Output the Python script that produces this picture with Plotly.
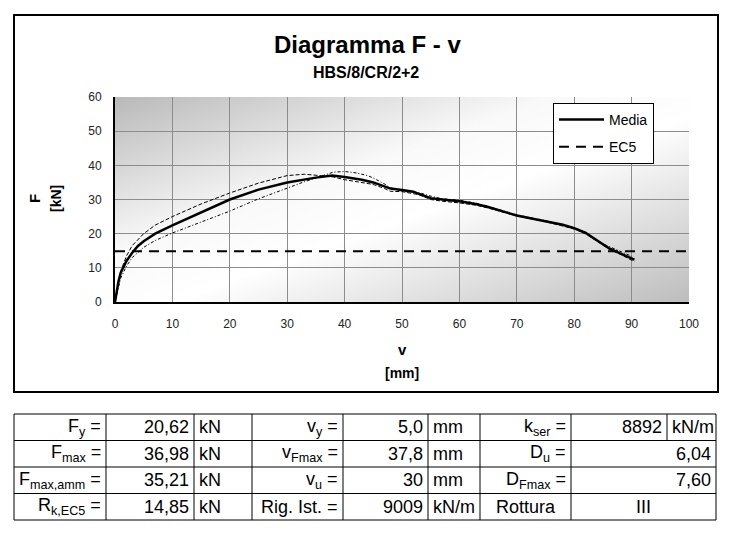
import base64

import plotly.graph_objects as go

W, H = 734, 533
FONT = "Liberation Sans, Arial, sans-serif"

# curve data: displacement v [mm], force F [kN]
media_v = [0, 0.3, 0.6, 1, 1.5, 2, 3, 4, 5, 7, 10, 15, 20, 25, 30, 35, 37.8, 40, 43, 45, 47, 48, 50,
           52, 53, 55, 57, 60, 63, 65, 68, 70, 73, 75, 78, 80, 82, 84, 85, 86, 88, 90, 90.5]
media_f = [0, 3, 6, 8.6, 10.5, 12, 14.4, 16.4, 17.8, 20, 22.4, 26.3, 30, 32.9, 35.0, 36.4, 37.0, 36.6,
           35.8, 35.0, 33.8, 33.2, 32.8, 32.3, 31.6, 30.4, 30.0, 29.5, 28.6, 27.8, 26.3, 25.3, 24.3,
           23.6, 22.6, 21.6, 20.2, 18.0, 16.8, 15.8, 14.2, 12.8, 12.4]

prova1_v = [0, 0.5, 1, 2, 3, 5, 7, 10, 15, 20, 25, 30, 33, 35, 38, 40, 43, 45, 47, 48, 50, 53, 55, 57,
            60, 63, 65, 70, 75, 80, 82, 84, 86, 88, 90, 90.5]
prova1_f = [0, 5, 9, 13.5, 16.5, 20, 22.5, 25, 28.7, 31.9, 34.8, 37.0, 37.4, 37.1, 36.6, 35.8, 35.0,
            34.4, 33.2, 32.4, 32.3, 31.4, 30.0, 29.5, 29.0, 28.3, 27.5, 25.2, 23.5, 21.4, 20.0, 17.8,
            15.5, 14.0, 12.3, 11.8]

prova2_v = [0, 0.5, 1, 2, 3, 5, 7, 10, 15, 20, 25, 30, 33, 35, 38, 40, 42, 44, 45, 47, 48, 50, 53, 55,
            57, 60, 63, 65, 70, 75, 80, 82, 84, 85, 86, 88, 90]
prova2_f = [0, 4, 7, 10.5, 13, 16, 18, 20.2, 23.5, 26.6, 30.2, 33.4, 35.2, 36.3, 38.0, 38.2, 37.8, 37.0,
            36.3, 34.5, 33.4, 32.4, 32.0, 31.0, 30.2, 29.8, 28.9, 28.0, 25.5, 23.8, 21.8, 20.4, 18.3,
            17.0, 16.3, 14.8, 13.4]

ec5_f = 14.85
x_range = [0, 100]
y_range = [0, 60]
x_ticks = [0, 10, 20, 30, 40, 50, 60, 70, 80, 90, 100]
y_ticks = [0, 10, 20, 30, 40, 50, 60]

title = "Diagramma F - v"
subtitle = "HBS/8/CR/2+2"

# results table (3 blocks of label / value / unit)
labels_a = ["F<sub>y</sub> =", "F<sub>max</sub> =", "F<sub>max,amm</sub> =", "R<sub>k,EC5</sub> ="]
values_a = ["20,62", "36,98", "35,21", "14,85"]
units_a = ["kN", "kN", "kN", "kN"]
labels_b = ["v<sub>y</sub> =", "v<sub>Fmax</sub> =", "v<sub>u</sub> =", "Rig. Ist. ="]
values_b = ["5,0", "37,8", "30", "9009"]
units_b = ["mm", "mm", "mm", "kN/m"]
labels_c = ["k<sub>ser</sub> =", "D<sub>u</sub> =", "D<sub>Fmax</sub> =", "Rottura"]
values_c = ["8892", "6,04", "7,60", "III"]
units_c = ["kN/m", "", "", ""]

# layout in pixels
PLOT_L, PLOT_R, PLOT_T, PLOT_B = 115, 689, 97, 302
FRAME = (14, 15, 718, 392)
COLS = [14, 106, 194, 252, 343, 428, 480, 571, 667, 716]
ROW_T, ROW_H = 414, 26.5


def px(x):
    return x / W


def py(y):
    return 1 - y / H


def gradient_uri(w, h):
    svg = (
        f'<svg xmlns="http://www.w3.org/2000/svg" width="{w}" height="{h}" '
        f'viewBox="0 0 {w} {h}" preserveAspectRatio="none"><defs>'
        '<linearGradient id="g" x1="0" y1="0" x2="1" y2="1">'
        '<stop offset="0" stop-color="#b9b9b9"/><stop offset="0.38" stop-color="#f9f9f9"/>'
        '<stop offset="0.55" stop-color="#ffffff"/><stop offset="1" stop-color="#bdbdbd"/>'
        f'</linearGradient></defs><rect width="{w}" height="{h}" fill="url(#g)"/></svg>'
    )
    return "data:image/svg+xml;base64," + base64.b64encode(svg.encode()).decode()


fig = go.Figure()

fig.add_trace(go.Scatter(x=prova1_v, y=prova1_f, mode="lines", showlegend=False, hoverinfo="skip",
                         line=dict(color="black", width=1, dash="4px,2px")))
fig.add_trace(go.Scatter(x=prova2_v, y=prova2_f, mode="lines", showlegend=False, hoverinfo="skip",
                         line=dict(color="black", width=1, dash="3px,2px,1px,2px")))
fig.add_trace(go.Scatter(x=media_v, y=media_f, mode="lines", name="Media", legendgroup="m",
                         line=dict(color="black", width=2.5)))
fig.add_trace(go.Scatter(x=x_range, y=[ec5_f, ec5_f], mode="lines", name="EC5", legendgroup="e",
                         line=dict(color="black", width=2, dash="10px,7px")))

shapes = [
    dict(type="rect", xref="x", yref="y", x0=x_range[0], x1=x_range[1], y0=y_range[0], y1=y_range[1],
         line=dict(color="#8c8c8c", width=1), layer="below"),
    dict(type="rect", xref="paper", yref="paper", x0=px(FRAME[0]), x1=px(FRAME[2]),
         y0=py(FRAME[3]), y1=py(FRAME[1]), line=dict(color="black", width=2)),
]

annotations = [
    dict(text=f"<b>{title}</b>", x=px(367), y=py(44), font=dict(size=24, color="black")),
    dict(text=f"<b>{subtitle}</b>", x=px(366), y=py(73), font=dict(size=16, color="black")),
    dict(text="<b>v</b>", x=px(402), y=py(349), font=dict(size=15, color="black")),
    dict(text="<b>[mm]</b>", x=px(402), y=py(373), font=dict(size=14, color="black")),
    dict(text="<b>F</b>", x=px(34), y=py(199), textangle=-90, font=dict(size=15, color="black")),
    dict(text="<b>[kN]</b>", x=px(56), y=py(199), textangle=-90, font=dict(size=14, color="black")),
]

# table grid
n_rows = len(labels_a)
row_lines = [ROW_T + ROW_H * i for i in range(n_rows + 1)]
for y in row_lines:
    shapes.append(dict(type="line", xref="paper", yref="paper", x0=px(COLS[0]), x1=px(COLS[-1]),
                       y0=py(y), y1=py(y), line=dict(color="black", width=1)))
for i, x in enumerate(COLS):
    y_end = row_lines[1] if i == 8 else row_lines[-1]
    shapes.append(dict(type="line", xref="paper", yref="paper", x0=px(x), x1=px(x),
                       y0=py(row_lines[0]), y1=py(y_end), line=dict(color="black", width=1)))


def cell(text, col, row, align, span=1):
    left, right = COLS[col], COLS[col + span]
    if align == "right":
        x, anchor = right - 3, "right"
    elif align == "left":
        x, anchor = left + 3, "left"
    else:
        x, anchor = (left + right) / 2, "center"
    return dict(text=text, x=px(x), y=py(ROW_T + ROW_H * (row + 0.5)), xanchor=anchor,
                font=dict(size=18, color="black"))


for r in range(n_rows):
    annotations.append(cell(labels_a[r], 0, r, "right"))
    annotations.append(cell(values_a[r], 1, r, "right"))
    annotations.append(cell(units_a[r], 2, r, "left"))
    annotations.append(cell(labels_b[r], 3, r, "right"))
    annotations.append(cell(values_b[r], 4, r, "right"))
    annotations.append(cell(units_b[r], 5, r, "left"))
    if r == n_rows - 1:
        annotations.append(cell(labels_c[r], 6, r, "center"))
        annotations.append(cell(values_c[r], 7, r, "center", span=2))
    elif units_c[r]:
        annotations.append(cell(labels_c[r], 6, r, "right"))
        annotations.append(cell(values_c[r], 7, r, "right"))
        annotations.append(cell(units_c[r], 8, r, "left"))
    else:
        annotations.append(cell(labels_c[r], 6, r, "right"))
        annotations.append(cell(values_c[r], 7, r, "right", span=2))

for a in annotations:
    a.setdefault("xref", "paper")
    a.setdefault("yref", "paper")
    a.setdefault("xanchor", "center")
    a.setdefault("yanchor", "middle")
    a.setdefault("showarrow", False)

axis_common = dict(showgrid=True, gridcolor="#8c8c8c", gridwidth=1, zeroline=False,
                   showline=True, linecolor="black", linewidth=2, ticks="", automargin=False,
                   tickfont=dict(size=12, color="#222222", family=FONT), fixedrange=True)

fig.update_layout(
    template="none",
    width=W, height=H, autosize=False,
    margin=dict(l=0, r=0, t=0, b=0, pad=0, autoexpand=False),
    paper_bgcolor="white", plot_bgcolor="white",
    font=dict(family=FONT, color="black"),
    xaxis=dict(domain=[px(PLOT_L), px(PLOT_R)], range=x_range, tickvals=x_ticks,
               ticklabelstandoff=10, **axis_common),
    yaxis=dict(domain=[py(PLOT_B), py(PLOT_T)], range=y_range, tickvals=y_ticks,
               ticklabelstandoff=9, **axis_common),
    images=[dict(source=gradient_uri(PLOT_R - PLOT_L, PLOT_B - PLOT_T), xref="x", yref="y",
                 x=x_range[0], y=y_range[1], sizex=x_range[1] - x_range[0],
                 sizey=y_range[1] - y_range[0], xanchor="left", yanchor="top",
                 sizing="stretch", layer="below")],
    legend=dict(x=px(553), y=py(103), xanchor="left", yanchor="top", bgcolor="white",
                bordercolor="black", borderwidth=1, font=dict(size=14, color="black"),
                tracegroupgap=6, traceorder="grouped", itemwidth=45),
    shapes=shapes,
    annotations=annotations,
    showlegend=True,
    hovermode=False,
)

fig.write_html("out.html", config={"displayModeBar": False},
               post_script="document.body.style.margin = '0'; document.body.style.overflow = 'hidden';")
